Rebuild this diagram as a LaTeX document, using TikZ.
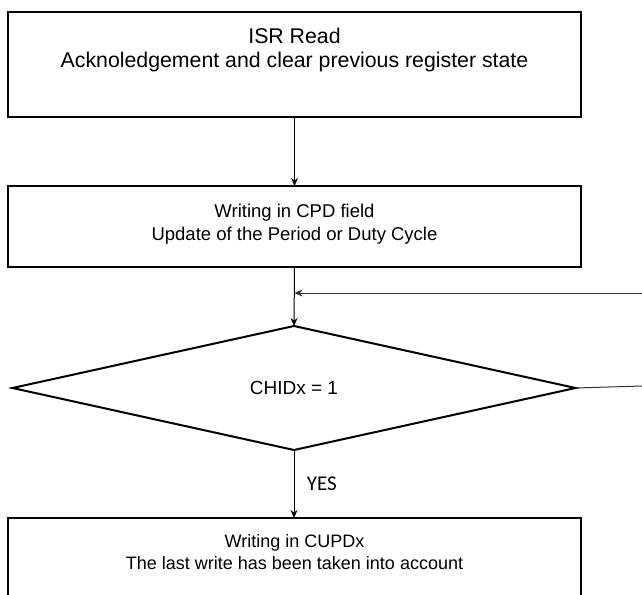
\documentclass[tikz,border=0pt]{standalone}
\usepackage{fontspec}
\setmainfont{Liberation Sans}
\newfontfamily\yesfont{Carlito}
\usepackage{tikz}
\usetikzlibrary{arrows.meta,positioning,calc,shapes.geometric}

\begin{document}
\begin{tikzpicture}[
    x=1pt, y=-1pt,
    stepbox/.style={
        draw=black,
        line width=2pt,
        minimum width=573pt,
        inner sep=0pt,
        outer sep=0pt,
    },
    boxtext/.style={
        align=center,
        font=\fontsize{18.5}{23}\selectfont,
        inner sep=0pt,
    },
    decision/.style={
        diamond,
        draw=black,
        line width=2pt,
        minimum width=563pt,
        minimum height=124pt,
        inner sep=0pt,
        outer sep=0pt,
        font=\fontsize{19}{23}\selectfont,
    },
    flowarrow/.style={
        -{Stealth[length=8pt,width=7pt]},
        line width=1pt,
        color=black,
    },
]
\useasboundingbox (0,0) rectangle (642,594);

\node[stepbox,minimum height=105pt] (isr) at (294.5,64.5) {};
\node[boxtext,font=\fontsize{21.3}{24}\selectfont] (isrtext) at (294.5,50) {ISR Read\\Acknoledgement and clear previous register state};

\node[stepbox,minimum height=81pt] (cpd) at (294.5,226.5) {};
\node[boxtext] (cpdtext) at (294.5,224) {Writing in CPD field\\Update of the Period or Duty Cycle};

\node[decision] (chid) at (294,388) {CHIDx = 1};

\node[stepbox,minimum height=100pt] (cupd) at (294.5,568) {};
\node[boxtext,font=\fontsize{18}{22.5}\selectfont] (cupdtext) at (294.5,552) {Writing in CUPDx\\The last write has been taken into account};

\coordinate (loopin) at (642,293);
\coordinate (noout) at (642,386);

\draw[flowarrow] (isr.south -| cpd.north) -- (cpd.north);
\draw[flowarrow] (cpd.south) -- (chid.north);
\draw[flowarrow] (chid.south) -- node[right=9pt,pos=0.5,font=\yesfont\fontsize{21}{24}\selectfont] {YES} (cupd.north -| chid.south);
\draw[flowarrow,line width=0.8pt,color=black!80] (loopin) -- (cpd.south |- loopin);
\draw[line width=1pt,color=black!80] (chid.east) -- (noout);
\end{tikzpicture}
\end{document}
